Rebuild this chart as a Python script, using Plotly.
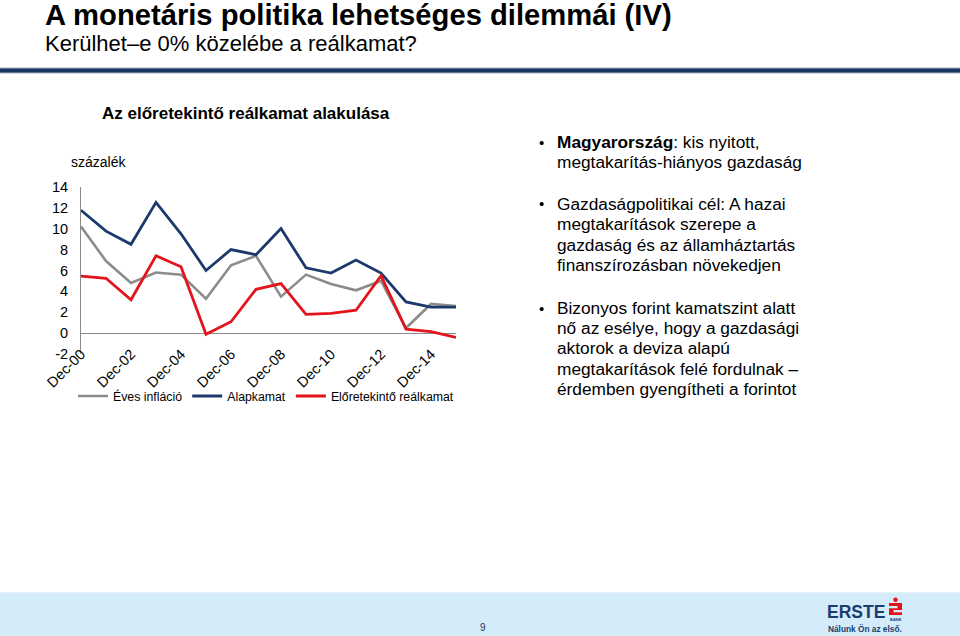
import plotly.graph_objects as go

# ---------------- data ----------------
dates = ["Dec-00", "Dec-01", "Dec-02", "Dec-03", "Dec-04", "Dec-05", "Dec-06", "Dec-07",
         "Dec-08", "Dec-09", "Dec-10", "Dec-11", "Dec-12", "Dec-13", "Dec-14", "Dec-15"]
inflacio = [10.2, 6.9, 4.8, 5.8, 5.6, 3.3, 6.5, 7.4, 3.5, 5.6, 4.7, 4.1, 5.0, 0.5, 2.8, 2.6]
alapkamat = [11.75, 9.75, 8.5, 12.5, 9.5, 6.0, 8.0, 7.5, 10.0, 6.25, 5.75, 7.0, 5.75, 3.0, 2.5, 2.5]
realkamat = [5.45, 5.25, 3.2, 7.4, 6.35, -0.1, 1.1, 4.2, 4.75, 1.8, 1.9, 2.2, 5.5, 0.4, 0.15, -0.4]
series_names = ["Éves infláció", "Alapkamat", "Előretekintő reálkamat"]
series_colors = ["#8c8c8c", "#1b3a6b", "#e3141b"]
y_ticks = [-2, 0, 2, 4, 6, 8, 10, 12, 14]
y_ticktext = ["-2", "0", "2", "4", "6", "8", "10", "12", "14"]
x_ticks = dates[::2]

W, H = 960, 636
SANS = "Liberation Sans, Arial, sans-serif"


def px(x):
    return x / W


def py(y):
    return 1 - y / H


fig = go.Figure()
for name, vals, col, wd in zip(series_names, [inflacio, alapkamat, realkamat], series_colors, [2.6, 2.8, 2.8]):
    fig.add_trace(go.Scatter(x=dates, y=vals, mode="lines", name=name,
                             line=dict(color=col, width=wd), cliponaxis=False))

fig.update_layout(
    width=W, height=H, margin=dict(l=0, r=0, t=0, b=0, autoexpand=False),
    paper_bgcolor="white", plot_bgcolor="rgba(0,0,0,0)",
    font=dict(family=SANS, color="#000000"),
    showlegend=True,
    legend=dict(orientation="h", x=px(73), y=py(396), xanchor="left", yanchor="middle",
                font=dict(size=12.3, family=SANS, color="#000"), bgcolor="rgba(0,0,0,0)",
                itemwidth=30, tracegroupgap=0),
    xaxis=dict(type="category", domain=[px(81), px(456)], range=[0, 15],
               tickmode="array", tickvals=x_ticks, ticktext=x_ticks, tickangle=-45,
               showgrid=False, showline=False, zeroline=False, ticks="",
               anchor="free", position=py(342), automargin=False,
               tickfont=dict(size=14.5, family=SANS, color="#000")),
    yaxis=dict(domain=[py(354.2), py(186.7)], range=[-2, 14], tickmode="array",
               tickvals=y_ticks, ticktext=y_ticktext, showgrid=False, showline=True,
               linecolor="#8a8a8a", linewidth=1, zeroline=True, zerolinecolor="#8a8a8a",
               zerolinewidth=1, ticks="outside", ticklen=9, tickcolor="rgba(0,0,0,0)",
               automargin=False, tickfont=dict(size=14.5, family=SANS, color="#000")),
)

shapes = []
# header rule
shapes.append(dict(type="rect", xref="paper", yref="paper", x0=0, x1=1, y0=py(73.5), y1=py(67.5),
                   fillcolor="#a9b4c6", line=dict(width=0), layer="below"))
shapes.append(dict(type="rect", xref="paper", yref="paper", x0=0, x1=1, y0=py(72.5), y1=py(68.5),
                   fillcolor="#17355f", line=dict(width=0), layer="below"))
# footer band
shapes.append(dict(type="rect", xref="paper", yref="paper", x0=0, x1=1, y0=0, y1=py(592),
                   fillcolor="#d4ebf9", line=dict(width=0), layer="below"))
shapes.append(dict(type="rect", xref="paper", yref="paper", x0=0, x1=1, y0=py(593.5), y1=py(592),
                   fillcolor="#e3f1fb", line=dict(width=0), layer="below"))
# red S logo
shapes.append(dict(type="rect", xref="paper", yref="paper", x0=px(889), x1=px(902), y0=py(615), y1=py(603),
                   fillcolor="#e2141b", line=dict(width=0)))
shapes.append(dict(type="rect", xref="paper", yref="paper", x0=px(889), x1=px(897.5), y0=py(608.3), y1=py(606),
                   fillcolor="#d4ebf9", line=dict(width=0)))
shapes.append(dict(type="rect", xref="paper", yref="paper", x0=px(893.5), x1=px(902), y0=py(612.3), y1=py(610),
                   fillcolor="#d4ebf9", line=dict(width=0)))
shapes.append(dict(type="circle", xref="paper", yref="paper", x0=px(893.3), x1=px(897.7), y0=py(602), y1=py(597.6),
                   fillcolor="#e2141b", line=dict(width=0)))
fig.update_layout(shapes=shapes)

ann = []


def text(x, y, s, size, family=SANS, color="#000", weight="normal", xanchor="left"):
    ann.append(dict(x=px(x), y=py(y), xref="paper", yref="paper", text=s, showarrow=False,
                    xanchor=xanchor, yanchor="middle", align="left",
                    font=dict(size=size, family=family, color=color, weight=weight)))


text(43, 15, "A monetáris politika lehetséges dilemmái (IV)", 29.2, SANS, "#000", "bold")
text(43, 44, "Kerülhet–e 0% közelébe a reálkamat?", 22, SANS, "#000")
text(246, 114, "Az előretekintő reálkamat alakulása", 17, SANS, "#000", "bold", xanchor="center")
text(69, 162, "százalék", 14, SANS, "#000")

right_lines = [
    (142, "<b>Magyarország</b>: kis nyitott,", True),
    (162, "megtakarítás-hiányos gazdaság", False),
    (204, "Gazdaságpolitikai cél: A hazai", True),
    (224, "megtakarítások szerepe a", False),
    (245, "gazdaság és az államháztartás", False),
    (265, "finanszírozásban növekedjen", False),
    (308, "Bizonyos forint kamatszint alatt", True),
    (328, "nő az esélye, hogy a gazdasági", False),
    (348, "aktorok a deviza alapú", False),
    (369, "megtakarítások felé fordulnak –", False),
    (389, "érdemben gyengítheti a forintot", False),
]
for y, s, bullet in right_lines:
    text(555, y, s, 17.3, SANS, "#000")
    if bullet:
        text(541, y, "•", 15, SANS, "#000", xanchor="center")

# footer texts
text(483, 627, "9", 10, SANS, "#1f3a60", xanchor="center")
text(825, 612, "ERSTE", 17.5, SANS, "#1b3d6e", "bold")
text(895.5, 619.5, "BANK", 4, SANS, "#1b3d6e", "bold", xanchor="center")
text(826, 628.5, "Nálunk Ön az első.", 8.3, SANS, "#1b3d6e", "bold")

fig.update_layout(annotations=ann)
fig.write_html("out.html", config={"displayModeBar": False},
               post_script="document.body.style.margin='0';document.body.style.overflow='hidden';")
